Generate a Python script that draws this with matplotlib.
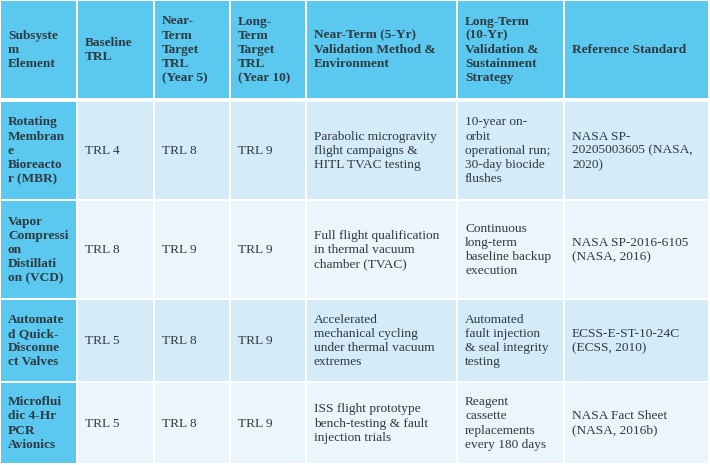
import matplotlib
matplotlib.use("Agg")
import matplotlib.pyplot as plt
from matplotlib.patches import Rectangle

headers = ["Subsyste\nm\nElement", "Baseline\nTRL", "Near-\nTerm\nTarget\nTRL\n(Year 5)",
           "Long-\nTerm\nTarget\nTRL\n(Year 10)", "Near-Term (5-Yr)\nValidation Method &\nEnvironment",
           "Long-Term\n(10-Yr)\nValidation &\nSustainment\nStrategy", "Reference Standard"]
elements = ["Rotating\nMembran\ne\nBioreacto\nr (MBR)", "Vapor\nCompressi\non\nDistillati\non (VCD)",
            "Automate\nd Quick-\nDisconne\nct Valves", "Microflui\ndic 4-Hr\nPCR\nAvionics"]
baseline = ["TRL 4", "TRL 8", "TRL 5", "TRL 5"]
near_trl = ["TRL 8", "TRL 9", "TRL 8", "TRL 8"]
long_trl = ["TRL 9", "TRL 9", "TRL 9", "TRL 9"]
near_method = ["Parabolic microgravity\nflight campaigns &\nHITL TVAC testing",
               "Full flight qualification\nin thermal vacuum\nchamber (TVAC)",
               "Accelerated\nmechanical cycling\nunder thermal vacuum\nextremes",
               "ISS flight prototype\nbench-testing & fault\ninjection trials"]
long_strategy = ["10-year on-\norbit\noperational run;\n30-day biocide\nflushes",
                 "Continuous\nlong-term\nbaseline backup\nexecution",
                 "Automated\nfault injection\n& seal integrity\ntesting",
                 "Reagent\ncassette\nreplacements\nevery 180 days"]
references = ["NASA SP-\n20205003605 (NASA,\n2020)", "NASA SP-2016-6105\n(NASA, 2016)",
              "ECSS-E-ST-10-24C\n(ECSS, 2010)", "NASA Fact Sheet\n(NASA, 2016b)"]

W, H = 710, 465
cols = [0, 77, 154, 230, 306, 457, 564, 709]
rows = [0, 99, 200, 299, 382, 464]

fig = plt.figure(figsize=(W/100, H/100), dpi=100)
ax = fig.add_axes([0, 0, 1, 1])
ax.set_xlim(0, W); ax.set_ylim(H, 0); ax.axis("off")

HEAD = "#5BC9EF"; ODD = "#D4EBF8"; EVEN = "#EAF5FC"; TXT = "#2E3A42"
font = dict(family=["Liberation Serif", "DejaVu Serif"], fontsize=9.6, color=TXT, linespacing=1.25)

body = list(zip(elements, baseline, near_trl, long_trl, near_method, long_strategy, references))
table = [headers] + [list(r) for r in body]
for ri, rowvals in enumerate(table):
    y0, y1 = rows[ri], rows[ri+1]
    for ci, val in enumerate(rowvals):
        x0, x1 = cols[ci], cols[ci+1]
        if ri == 0 or ci == 0:
            fc = HEAD
        else:
            fc = ODD if ri % 2 == 1 else EVEN
        g = 1.0
        top = y0 + (2.5 if ri == 1 else g)
        ax.add_patch(Rectangle((x0 + g, top), x1 - x0 - 2*g, y1 - top - g, fc=fc, ec="none"))
        bold = (ri == 0 or ci == 0)
        ax.text(x0 + 8, (top + y1) / 2, val, ha="left", va="center",
                fontweight="bold" if bold else "normal", **font)

fig.savefig("out.png", dpi=100, facecolor="white")
